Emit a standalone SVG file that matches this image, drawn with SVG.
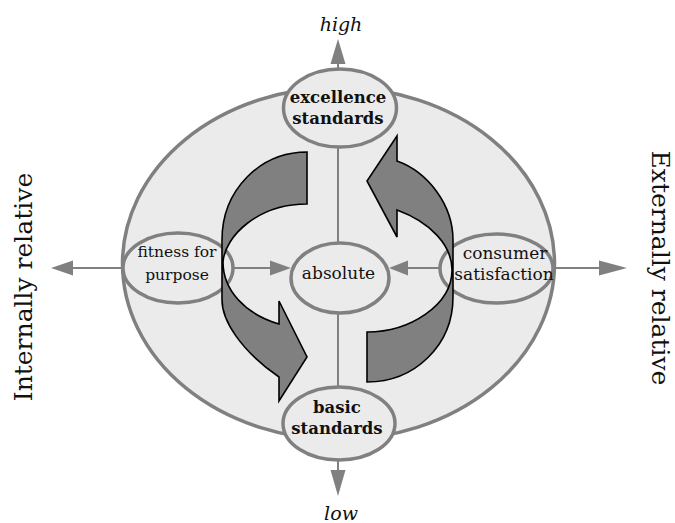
<svg xmlns="http://www.w3.org/2000/svg" width="675" height="523" viewBox="0 0 675 523">
<defs>
<style>
.node{fill:#ebebeb;stroke:#808080;stroke-width:3.5}
.line{stroke:#808080;stroke-width:2;fill:none}
.head{fill:#808080;stroke:none}
.t{font-family:"DejaVu Serif",serif;font-size:17px;fill:#111;text-anchor:middle}
.f{font-size:15.5px}
.b{font-weight:bold;font-size:16.5px}
.axis{font-family:"DejaVu Serif",serif;font-size:19px;font-style:italic;fill:#111;text-anchor:middle}
.side{font-family:"DejaVu Serif",serif;font-size:25px;fill:#111;text-anchor:middle}
.cyc{fill:#808080;stroke:#000;stroke-width:1.6;stroke-linejoin:miter}
</style>
</defs>
<rect width="675" height="523" fill="#fff"/>
<g id="background">
<ellipse class="node" cx="338.5" cy="263.5" rx="216" ry="176"/>
</g>
<g id="connectors">
<line class="line" x1="338" y1="69" x2="338" y2="62"/>
<polygon class="head" points="338,39 330.5,64 345.5,64"/>
<line class="line" x1="338" y1="460" x2="338" y2="472"/>
<polygon class="head" points="338,496 330.5,470 345.5,470"/>
<line class="line" x1="123" y1="268" x2="70" y2="268"/>
<polygon class="head" points="51,268 73,260.5 73,275.5"/>
<line class="line" x1="553" y1="268" x2="601" y2="268"/>
<polygon class="head" points="627,268 599,260.5 599,275.5"/>
<line class="line" x1="233" y1="268" x2="272" y2="268"/>
<polygon class="head" points="291,268 270,260.5 270,275.5"/>
<line class="line" x1="440" y1="268" x2="406" y2="268"/>
<polygon class="head" points="389,268 408,260.5 408,275.5"/>
<line class="line" x1="338" y1="147" x2="338" y2="243"/>
<line class="line" x1="338" y1="313" x2="338" y2="387"/>
</g>
<g id="excellence">
<ellipse class="node" cx="340" cy="108" rx="56.5" ry="39"/>
<text class="t b" x="338" y="103">excellence</text>
<text class="t b" x="338" y="124">standards</text>
</g>
<g id="basic">
<ellipse class="node" cx="339" cy="423.5" rx="56" ry="36.5"/>
<text class="t b" x="337" y="413">basic</text>
<text class="t b" x="337" y="434">standards</text>
</g>
<g id="absolute">
<ellipse class="node" cx="340" cy="278" rx="49" ry="35"/>
<text class="t" x="338.5" y="279">absolute</text>
</g>
<g id="fitness">
<ellipse class="node" cx="178" cy="268" rx="55" ry="35"/>
<text class="t f" x="177" y="257">fitness for</text>
<text class="t f" x="177" y="280">purpose</text>
</g>
<g id="consumer">
<ellipse class="node" cx="496.5" cy="268.5" rx="56.5" ry="34.5"/>
<text class="t" x="505" y="259">consumer</text>
<text class="t" x="504" y="280">satisfaction</text>
</g>
<g id="cycle">
<path class="cyc" d="M307,152 C260,152 222,190 222,240 L222,300 C222,320 240,350 279,377 L279,401 L307,357 L279,301 L279,324 C245,314 223,290 223,262 C225,236 258,204 307,204 Z"/>
<path class="cyc" d="M367,382 C415,382 453,345 453,297 L453,240 C453,205 428,172 397,161 L397,136 L367,181 L397,237 L397,210 C430,222 452,245 452,270 C452,305 410,332 367,332 Z"/>
</g>
<g id="labels">
<text class="axis" x="341" y="31">high</text>
<text class="axis" x="341" y="520">low</text>
<text class="side" transform="translate(32,287) rotate(-90)">Internally relative</text>
<text class="side" transform="translate(652,268) rotate(90)">Externally relative</text>
</g>
</svg>
